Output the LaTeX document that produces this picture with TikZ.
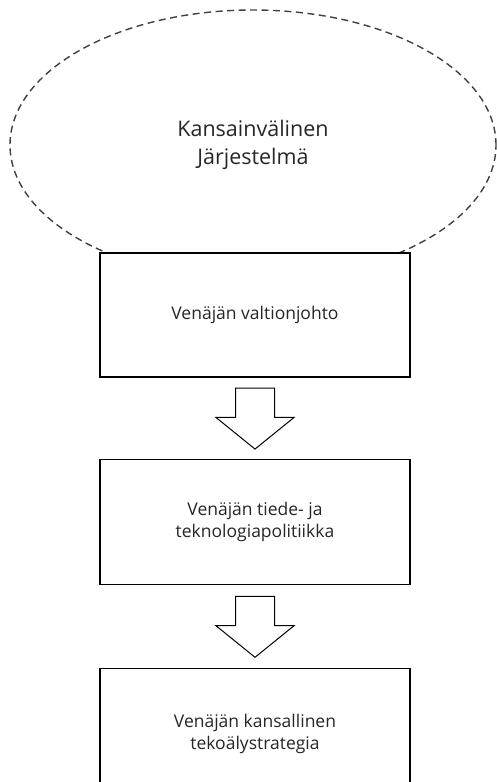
\documentclass[tikz,border=0pt]{standalone}
\usepackage{fontspec}
\setmainfont{Open Sans}
\usetikzlibrary{positioning,shapes.geometric,shapes.arrows}

\begin{document}
\begin{tikzpicture}[x=1pt, y=1pt, node distance={10pt},
    oval/.style = {draw=black!75, dash pattern=on 7pt off 4.5pt, line width=1.4pt, ellipse, minimum width=486pt, minimum height=270pt, font=\fontsize{21.5}{28}\selectfont, text=black!85, align=center},
    box/.style = {draw, line width=1.1pt, fill=white, minimum width=310pt, font=\fontsize{17.5}{22}\selectfont, text=black!85, align=center},
    down/.style = {draw, line width=1pt, single arrow, shape border rotate=270, inner sep=19pt, single arrow head extend=19.5pt, single arrow tip angle=102, minimum height=61pt, minimum width=61pt}]
        \useasboundingbox (0,0) rectangle (497,-782);
        \clip (0,0) rectangle (497,-782);
        \node[oval] (system) at (253,-145) {Kansainvälinen\\Järjestelmä};
        \node[box, minimum height=124pt] (lead) at (255,-315) {Venäjän valtionjohto};
        \node[down] (a1) [below=of lead] {};
        \node[box, minimum height=125pt] (policy) [below=9pt of a1] {Venäjän tiede- ja\\teknologiapolitiikka};
        \node[down] (a2) [below=11pt of policy] {};
        \node[box, minimum height=130pt] (strategy) [below=of a2] {Venäjän kansallinen\\tekoälystrategia};
    \end{tikzpicture}
\end{document}
